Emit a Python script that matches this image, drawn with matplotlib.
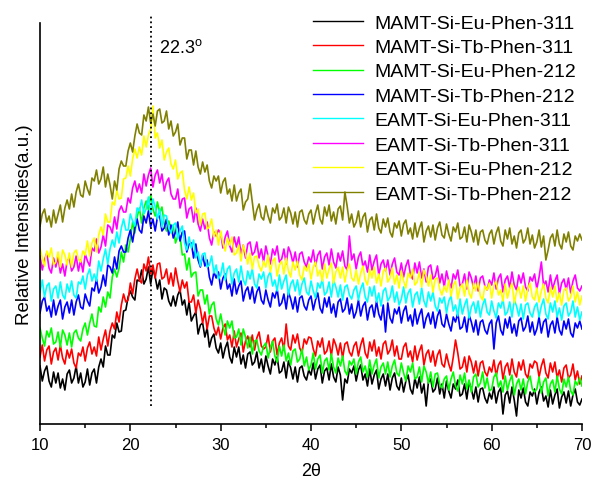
import numpy as np
import matplotlib.pyplot as plt

# 2theta grid, 0.25 deg step (10 ... 70)
two_theta = np.arange(10, 70.001, 0.25)

# intensities (a.u.), one row = 5 degrees (20 points), last value at 70
mamt_eu_311 = [58, 43, 53, 58, 43, 37, 52, 41, 51, 36, 45, 34, 50, 54, 41, 46, 58, 41, 51, 37,
               42, 55, 39, 51, 55, 41, 57, 65, 57, 78, 69, 69, 89, 86, 101, 92, 93, 113, 114, 127,
               133, 127, 124, 144, 143, 154, 140, 145, 157, 140, 155, 147, 135, 144, 125, 136, 134, 123, 118, 128,
               118, 129, 134, 119, 124, 109, 122, 103, 108, 112, 90, 99, 101, 87, 96, 77, 86, 90, 76, 71,
               81, 66, 76, 82, 67, 61, 77, 67, 77, 60, 69, 56, 70, 72, 59, 62, 72, 56, 65, 52,
               68, 58, 50, 65, 59, 67, 51, 53, 62, 46, 63, 56, 45, 57, 42, 56, 58, 48, 44, 54,
               49, 61, 45, 55, 59, 41, 53, 56, 44, 60, 47, 42, 57, 49, 24, 45, 41, 55, 51, 58,
               43, 54, 59, 44, 50, 38, 55, 40, 49, 54, 35, 45, 50, 38, 50, 34, 46, 51, 38, 34,
               46, 32, 43, 49, 35, 30, 46, 36, 47, 31, 40, 18, 42, 45, 32, 35, 46, 30, 40, 26,
               43, 33, 26, 40, 35, 44, 28, 30, 40, 25, 42, 35, 25, 37, 22, 35, 36, 26, 21, 31,
               25, 37, 21, 32, 36, 10, 29, 33, 21, 37, 24, 8, 34, 26, 36, 22, 18, 32, 28, 35,
               20, 32, 37, 23, 28, 17, 34, 20, 29, 35, 16, 27, 32, 21, 33, 18, 29, 35, 22, 19,
               25]

mamt_tb_311 = [67, 79, 63, 74, 78, 60, 72, 76, 64, 79, 66, 60, 74, 66, 75, 61, 56, 71, 68, 77,
               63, 76, 82, 70, 77, 68, 87, 74, 85, 94, 78, 93, 101, 95, 112, 102, 119, 130, 122, 124,
               141, 130, 145, 155, 144, 141, 160, 153, 167, 150, 159, 146, 160, 161, 145, 147, 155, 140, 151, 138,
               156, 143, 132, 144, 136, 142, 122, 122, 129, 111, 124, 115, 101, 112, 95, 108, 108, 96, 89, 97,
               85, 96, 100, 84, 89, 77, 93, 77, 85, 91, 72, 83, 88, 77, 89, 74, 86, 92, 78, 75,
               77, 89, 72, 83, 86, 69, 81, 86, 74, 100, 78, 74, 89, 81, 90, 76, 71, 85, 80, 87,
               86, 75, 68, 83, 77, 86, 70, 73, 83, 68, 85, 79, 69, 81, 66, 80, 82, 72, 68, 78,
               82, 68, 79, 86, 71, 66, 82, 73, 84, 68, 77, 65, 80, 83, 70, 74, 84, 68, 78, 65,
               65, 77, 81, 67, 73, 62, 78, 64, 73, 79, 59, 70, 74, 62, 73, 58, 69, 74, 60, 57,
               70, 60, 53, 67, 84, 71, 55, 57, 67, 52, 68, 62, 51, 63, 48, 61, 63, 52, 48, 57,
               52, 64, 48, 59, 63, 45, 57, 61, 49, 65, 52, 47, 62, 54, 64, 50, 46, 60, 56, 63,
               61, 47, 58, 65, 51, 46, 61, 52, 62, 46, 54, 42, 56, 59, 46, 49, 60, 44, 53, 40,
               48]

mamt_eu_212 = [96, 86, 78, 93, 87, 96, 80, 82, 92, 77, 94, 89, 79, 91, 77, 91, 94, 86, 83, 95,
               101, 89, 101, 110, 98, 97, 117, 112, 127, 117, 132, 126, 147, 155, 147, 156, 172, 162, 179, 172,
               185, 202, 191, 207, 216, 201, 216, 223, 214, 229, 215, 208, 222, 211, 217, 200, 193, 203, 196, 199,
               181, 188, 188, 169, 170, 154, 166, 147, 151, 152, 128, 134, 134, 120, 129, 110, 119, 122, 105, 99,
               110, 98, 89, 103, 96, 103, 86, 87, 95, 79, 95, 87, 76, 87, 70, 83, 84, 73, 69, 78,
               81, 66, 76, 83, 68, 62, 78, 68, 79, 63, 71, 59, 73, 75, 62, 65, 75, 58, 67, 54,
               59, 71, 55, 65, 69, 51, 63, 66, 54, 70, 57, 51, 66, 58, 68, 53, 49, 63, 59, 65,
               50, 62, 67, 52, 58, 47, 64, 50, 59, 65, 46, 57, 61, 50, 62, 47, 58, 64, 51, 48,
               61, 51, 43, 58, 52, 61, 45, 47, 57, 42, 58, 52, 41, 52, 37, 50, 51, 40, 36, 45,
               48, 34, 45, 52, 38, 33, 49, 40, 51, 35, 44, 32, 47, 50, 37, 41, 52, 36, 46, 33,
               35, 47, 51, 37, 43, 32, 48, 34, 43, 49, 29, 40, 45, 34, 45, 30, 42, 48, 35, 32,
               35, 47, 31, 42, 46, 28, 40, 44, 32, 48, 35, 30, 45, 37, 47, 33, 29, 43, 39, 46,
               38]

mamt_tb_212 = [111, 123, 127, 113, 118, 107, 124, 109, 118, 124, 105, 117, 122, 111, 124, 109, 122, 129, 117, 115,
               130, 123, 118, 136, 133, 145, 131, 137, 149, 138, 159, 157, 151, 167, 155, 173, 178, 172, 172, 186,
               194, 182, 196, 205, 194, 191, 208, 201, 213, 197, 205, 193, 207, 208, 193, 196, 205, 189, 199, 186,
               192, 202, 183, 192, 193, 172, 180, 181, 166, 180, 164, 157, 169, 158, 164, 147, 139, 152, 146, 152,
               135, 146, 150, 135, 140, 128, 145, 130, 138, 143, 123, 133, 137, 125, 137, 121, 132, 137, 124, 120,
               134, 124, 117, 131, 126, 135, 118, 121, 130, 115, 132, 125, 115, 127, 112, 126, 128, 118, 114, 124,
               128, 114, 124, 131, 116, 111, 126, 117, 127, 111, 120, 107, 122, 125, 112, 115, 126, 110, 120, 106,
               112, 124, 108, 118, 122, 104, 116, 119, 107, 123, 110, 104, 119, 92, 121, 106, 101, 115, 110, 117,
               101, 113, 118, 103, 109, 98, 115, 100, 109, 115, 96, 106, 111, 100, 112, 96, 108, 114, 100, 97,
               110, 100, 93, 107, 102, 111, 95, 97, 107, 92, 109, 102, 92, 104, 89, 102, 104, 94, 90, 100,
               104, 75, 101, 108, 94, 89, 105, 96, 107, 91, 100, 88, 103, 106, 93, 97, 108, 92, 102, 89,
               95, 107, 91, 102, 105, 87, 99, 103, 91, 107, 94, 89, 103, 95, 105, 91, 87, 101, 96, 103,
               95]

eamt_eu_311 = [132, 144, 127, 138, 141, 123, 135, 138, 126, 142, 129, 125, 140, 132, 143, 129, 126, 142, 140, 148,
               135, 149, 155, 143, 150, 143, 163, 153, 165, 175, 160, 175, 184, 177, 192, 181, 196, 205, 194, 194,
               210, 203, 198, 216, 213, 224, 210, 215, 227, 210, 225, 217, 205, 215, 197, 209, 208, 196, 191, 199,
               201, 185, 193, 198, 181, 174, 187, 176, 184, 166, 172, 158, 170, 171, 157, 159, 168, 151, 159, 145,
               149, 161, 144, 155, 158, 140, 151, 155, 142, 158, 144, 139, 153, 145, 155, 140, 136, 150, 145, 152,
               136, 148, 152, 138, 144, 133, 149, 135, 143, 149, 129, 140, 144, 133, 144, 129, 140, 146, 132, 129,
               143, 133, 126, 141, 136, 145, 129, 132, 142, 127, 144, 137, 127, 139, 124, 137, 139, 129, 125, 134,
               138, 124, 135, 141, 127, 122, 137, 128, 138, 122, 131, 118, 133, 136, 123, 127, 138, 122, 132, 119,
               125, 137, 121, 131, 135, 117, 129, 132, 120, 136, 123, 117, 132, 123, 132, 118, 113, 126, 121, 127,
               111, 123, 128, 113, 119, 108, 125, 110, 119, 125, 106, 117, 122, 111, 123, 107, 119, 125, 112, 109,
               123, 113, 106, 121, 116, 125, 109, 112, 122, 107, 124, 118, 108, 120, 105, 119, 121, 111, 107, 117,
               121, 107, 118, 125, 110, 105, 121, 112, 123, 107, 116, 104, 118, 121, 108, 112, 123, 107, 117, 104,
               112]

eamt_tb_311 = [168, 154, 164, 171, 156, 151, 166, 157, 167, 151, 160, 148, 163, 166, 153, 157, 168, 153, 164, 152,
               170, 163, 158, 176, 173, 185, 171, 177, 189, 178, 199, 197, 191, 207, 195, 213, 218, 212, 212, 226,
               221, 236, 243, 232, 240, 231, 250, 238, 249, 256, 237, 249, 254, 241, 250, 233, 242, 246, 230, 225,
               225, 235, 216, 225, 226, 206, 215, 217, 202, 216, 200, 193, 205, 195, 202, 186, 179, 192, 188, 194,
               191, 176, 187, 193, 178, 172, 187, 177, 187, 170, 179, 166, 180, 182, 169, 172, 182, 166, 175, 162,
               178, 168, 160, 175, 169, 178, 162, 165, 175, 160, 177, 171, 161, 172, 157, 170, 172, 162, 157, 167,
               162, 174, 158, 169, 173, 155, 167, 171, 159, 175, 162, 156, 171, 163, 173, 158, 154, 188, 164, 170,
               155, 167, 172, 157, 163, 152, 169, 154, 163, 169, 149, 160, 164, 153, 164, 149, 160, 166, 152, 149,
               161, 147, 158, 164, 150, 145, 161, 151, 162, 146, 155, 142, 157, 159, 145, 148, 158, 141, 150, 137,
               153, 143, 136, 150, 145, 154, 138, 140, 150, 135, 152, 146, 136, 148, 133, 146, 148, 138, 134, 144,
               139, 151, 135, 146, 150, 132, 144, 148, 136, 152, 139, 134, 149, 141, 151, 137, 133, 147, 143, 150,
               135, 147, 162, 138, 143, 132, 149, 135, 143, 149, 130, 141, 145, 134, 146, 131, 143, 149, 136, 133,
               138]

eamt_eu_212 = [176, 166, 158, 173, 167, 176, 159, 162, 172, 157, 174, 169, 159, 171, 157, 171, 174, 165, 162, 173,
               169, 183, 168, 181, 186, 172, 189, 197, 189, 210, 202, 202, 222, 219, 234, 225, 226, 245, 246, 258,
               248, 265, 275, 266, 277, 269, 288, 277, 289, 295, 318, 286, 291, 276, 284, 264, 272, 276, 260, 255,
               264, 245, 251, 253, 234, 225, 237, 224, 231, 211, 215, 199, 210, 211, 195, 197, 205, 187, 194, 179,
               193, 181, 173, 186, 179, 187, 169, 171, 179, 163, 179, 171, 160, 171, 155, 167, 168, 158, 153, 163,
               157, 169, 152, 163, 166, 148, 159, 163, 150, 166, 153, 147, 162, 154, 163, 149, 144, 158, 153, 160,
               145, 157, 162, 148, 154, 143, 160, 146, 155, 161, 141, 152, 157, 146, 157, 142, 154, 160, 146, 143,
               154, 140, 151, 158, 144, 139, 155, 146, 157, 141, 150, 138, 153, 156, 142, 146, 156, 140, 149, 136,
               153, 143, 136, 151, 146, 155, 139, 142, 152, 137, 154, 148, 138, 149, 132, 145, 146, 135, 129, 138,
               132, 144, 128, 139, 143, 125, 136, 140, 128, 144, 131, 126, 141, 133, 142, 128, 124, 138, 134, 141,
               126, 138, 143, 129, 134, 123, 140, 126, 135, 141, 121, 132, 137, 126, 138, 123, 135, 141, 127, 124,
               136, 122, 133, 140, 126, 121, 137, 127, 138, 122, 131, 119, 134, 136, 123, 127, 138, 122, 132, 119,
               128]

eamt_tb_212 = [198, 210, 215, 202, 208, 197, 214, 201, 210, 219, 202, 216, 224, 215, 230, 217, 232, 240, 229, 227,
               243, 235, 229, 246, 243, 254, 240, 245, 257, 237, 250, 239, 225, 243, 234, 255, 263, 258, 258, 273,
               281, 272, 288, 300, 291, 289, 309, 303, 317, 301, 310, 298, 313, 315, 301, 303, 313, 295, 303, 288,
               292, 300, 279, 286, 286, 265, 274, 274, 259, 273, 257, 250, 262, 252, 259, 243, 236, 248, 243, 248,
               231, 242, 246, 230, 235, 223, 239, 223, 231, 235, 214, 222, 225, 240, 222, 204, 214, 220, 207, 204,
               218, 208, 201, 216, 211, 220, 204, 207, 216, 201, 217, 211, 200, 212, 197, 212, 214, 204, 200, 210,
               214, 200, 211, 219, 205, 200, 217, 208, 219, 203, 212, 200, 215, 218, 204, 232, 218, 201, 210, 197,
               202, 213, 197, 207, 211, 192, 204, 207, 194, 210, 196, 191, 205, 197, 206, 192, 187, 201, 196, 203,
               188, 200, 204, 190, 196, 185, 201, 187, 196, 202, 182, 193, 198, 187, 199, 184, 196, 202, 189, 186,
               200, 190, 183, 197, 192, 201, 185, 187, 197, 182, 199, 192, 182, 194, 179, 192, 194, 184, 180, 190,
               194, 180, 191, 197, 183, 178, 194, 185, 196, 180, 188, 176, 191, 194, 181, 185, 196, 180, 189, 176,
               182, 194, 177, 188, 164, 174, 186, 190, 178, 194, 180, 175, 190, 182, 192, 178, 174, 188, 183, 190,
               184]

series = [mamt_eu_311, mamt_tb_311, mamt_eu_212, mamt_tb_212,
          eamt_eu_311, eamt_tb_311, eamt_eu_212, eamt_tb_212]
labels = ['MAMT-Si-Eu-Phen-311', 'MAMT-Si-Tb-Phen-311',
          'MAMT-Si-Eu-Phen-212', 'MAMT-Si-Tb-Phen-212',
          'EAMT-Si-Eu-Phen-311', 'EAMT-Si-Tb-Phen-311',
          'EAMT-Si-Eu-Phen-212', 'EAMT-Si-Tb-Phen-212']
colors = ['#000000', '#ff0000', '#00ff00', '#0000ff',
          '#00ffff', '#ff00ff', '#ffff00', '#808000']

peak_pos = 22.3

plt.rcParams['font.family'] = ['Liberation Sans', 'DejaVu Sans']
plt.rcParams['mathtext.fontset'] = 'custom'
plt.rcParams['mathtext.rm'] = 'Liberation Sans'

fig = plt.figure(figsize=(5.92, 4.81), dpi=100)
ax = fig.add_axes([0.0676, 0.1164, 0.9155, 0.8337])

for y, c, lab in zip(series, colors, labels):
    ax.plot(two_theta, y, color=c, lw=1.2, label=lab)

# peak marker
ax.plot([peak_pos, peak_pos], [18, 410], ls=':', color='black', lw=1.3, clip_on=False)
ax.text(peak_pos + 0.9, 377, f'{peak_pos}' + r'$^{\mathregular{o}}$', fontsize=13, va='center')

ax.set_xlim(10, 70)
ax.set_ylim(0, 401)
ax.spines['top'].set_visible(False)
ax.spines['right'].set_visible(False)
ax.spines['left'].set_linewidth(1.2)
ax.spines['bottom'].set_linewidth(1.2)
ax.set_yticks([])
ax.set_xticks(range(10, 71, 10))
ax.set_xticks(range(15, 70, 10), minor=True)
ax.tick_params(axis='x', which='major', direction='out', length=5, width=1.1,
               labelsize=12, pad=4.5)
ax.tick_params(axis='x', which='minor', direction='out', length=3, width=1.1)
ax.set_xlabel('2θ', fontsize=13, labelpad=7)
ax.set_ylabel('Relative Intensities(a.u.)', fontsize=13.5, labelpad=5)

leg = ax.legend(loc='upper left', bbox_to_anchor=(313 / 592, 1 - 15 / 481),
                bbox_transform=fig.transFigure, frameon=False, fontsize=14,
                handlelength=2.55, handletextpad=0.6, labelspacing=0.35,
                borderpad=0, borderaxespad=0)
for line in leg.get_lines():
    line.set_linewidth(1.0)

fig.savefig('out.png', dpi=100)
